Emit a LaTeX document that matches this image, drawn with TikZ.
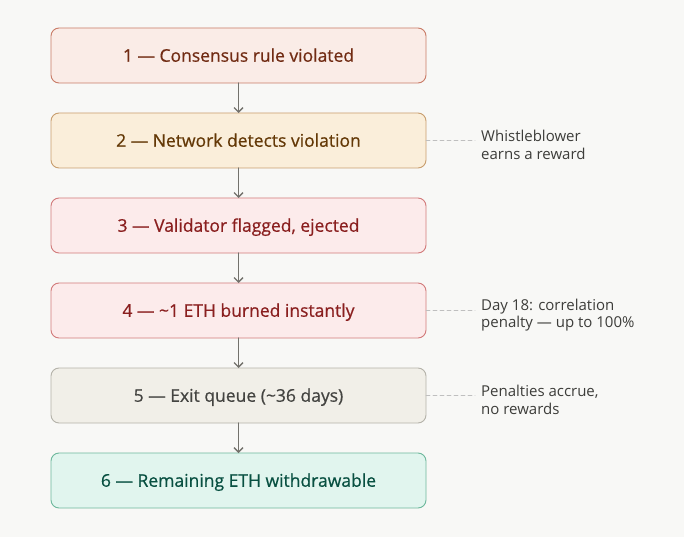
\documentclass[tikz,border=0pt]{standalone}
\usepackage{fontspec}
\setmainfont{Open Sans}
\newfontfamily\boxfont[FakeBold=0.6]{Open Sans}
\usetikzlibrary{arrows.meta, positioning}
\definecolor{bgpaper}{HTML}{F8F8F6}
\definecolor{coralfill}{HTML}{FAECE7}
\definecolor{coraldraw}{HTML}{C97B66}
\definecolor{coraltext}{HTML}{712B13}
\definecolor{amberfill}{HTML}{FAEEDA}
\definecolor{amberdraw}{HTML}{C89E6E}
\definecolor{ambertext}{HTML}{633806}
\definecolor{redfill}{HTML}{FCEBEB}
\definecolor{reddraw}{HTML}{D27A7A}
\definecolor{redtext}{HTML}{8A1F1F}
\definecolor{grayfill}{HTML}{F1EFE8}
\definecolor{graydraw}{HTML}{B4B2A9}
\definecolor{graytext}{HTML}{444441}
\definecolor{tealfill}{HTML}{E1F5EE}
\definecolor{tealdraw}{HTML}{6DB89C}
\definecolor{tealtext}{HTML}{085041}
\definecolor{arrowgray}{HTML}{73726C}
\tikzset{
  >={Straight Barb[length=4.5pt, width=9pt]},
  every picture/.style={line cap=round, line join=round},
  stage/.style={draw, rounded corners=8pt, line width=0.9pt, minimum width=375pt,
    minimum height=55pt, inner sep=0pt, outer sep=0pt, text height=12.5pt, text depth=0pt,
    font=\boxfont\fontsize{17.5}{20}\selectfont},
  coralbox/.style={stage, fill=coralfill, draw=coraldraw, text=coraltext},
  amberbox/.style={stage, fill=amberfill, draw=amberdraw, text=ambertext},
  redbox/.style={stage, fill=redfill, draw=reddraw, text=redtext},
  graybox/.style={stage, fill=grayfill, draw=graydraw, text=graytext},
  tealbox/.style={stage, fill=tealfill, draw=tealdraw, text=tealtext},
  flow/.style={->, arrowgray, line width=1.3pt},
  % side notes and their dashed leaders
  note/.style={anchor=west, inner sep=0pt, align=left, text=graytext!90!black,
    yshift=-4.5pt, font=\fontsize{15}{17.5}\selectfont},
  leader/.style={dashed, dash pattern=on 4pt off 3pt, line width=0.8pt, gray!50, shorten >=6pt},
}
\begin{document}
\begin{tikzpicture}
  \fill[bgpaper] (0,0) rectangle (684pt,-537pt);
  \useasboundingbox (0,0) rectangle (684pt,-537pt);
  \node[coralbox] (s1) at (238.5pt,-55.5pt) {1 — Consensus rule violated};
  \node[amberbox, below=30pt of s1] (s2) {2 — Network detects violation};
  \node[redbox, below=30pt of s2] (s3) {3 — Validator flagged, ejected};
  \node[redbox, below=30pt of s3] (s4) {4 — \textasciitilde1 ETH burned instantly};
  \node[graybox, below=30pt of s4] (s5) {5 — Exit queue (\textasciitilde36 days)};
  \node[tealbox, below=30pt of s5] (s6) {6 — Remaining ETH withdrawable};
  \foreach \a/\b in {s1/s2, s2/s3, s3/s4, s4/s5, s5/s6}
    \draw[flow] (\a.south) -- (\b.north);
  \node[note, right=55pt of s2] (w2) {Whistleblower\\earns a reward};
  \node[note, right=55pt of s4] (w4) {Day 18: correlation\\penalty — up to 100\%};
  \node[note, right=55pt of s5] (w5) {Penalties accrue,\\no rewards};
  \foreach \a/\b in {s2/w2, s4/w4, s5/w5}
    \draw[leader] (\a.east) -- (\a.east -| \b.west);
\end{tikzpicture}
\end{document}
